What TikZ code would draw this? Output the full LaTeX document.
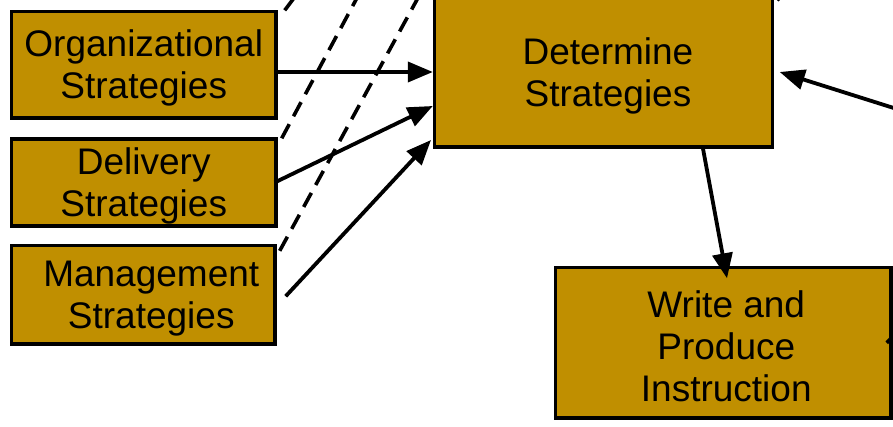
\documentclass[tikz,border=0pt]{standalone}
\usepackage{fontspec}
\setmainfont{Liberation Sans}
\usetikzlibrary{arrows.meta,calc}
\definecolor{boxgold}{RGB}{192,143,0}
\newcommand{\topstrut}{\rule{0pt}{34pt}}
\tikzset{
  stratbox/.style={rectangle, draw=black, line width=3.4pt, fill=boxgold,
    inner sep=0pt, align=center, font=\fontsize{37}{42}\selectfont},
  arr/.style={line width=3.8pt, -{Triangle[length=25pt,width=20pt]}},
  plain/.style={line width=3.8pt},
  dashline/.style={line width=3.6pt, dash pattern=on 16pt off 9pt}
}
\begin{document}
\begin{tikzpicture}[x=1pt,y=-1pt]
\useasboundingbox (0,0) rectangle (893,427);
\clip (0,0) rectangle (893,427);

% boxes
\node[stratbox, minimum width=264.5pt, minimum height=106.5pt] (org) at (143.75,64.75) {\topstrut Organizational\\Strategies};
\node[stratbox, minimum width=264.5pt, minimum height=87pt] (del) at (143.75,182.5) {\topstrut Delivery\\Strategies};
\node[stratbox, minimum width=263.5pt, minimum height=98.5pt] (man) at (143.25,294.75) {\topstrut\hspace*{16pt}Management\\\hspace*{16pt}Strategies};
\node[stratbox, minimum width=338pt, minimum height=150pt] (det) at (603.5,72) {\topstrut\hspace*{9pt}Determine\\\hspace*{9pt}Strategies};
\node[stratbox, minimum width=335.5pt, minimum height=150.5pt] (wri) at (723.25,342.75) {\topstrut\hspace*{6pt}Write and\\\hspace*{6pt}Produce\\\hspace*{6pt}Instruction};

% free ends beyond the picture
\coordinate (d1) at (294,-2);
\coordinate (d2) at (358,-4);
\coordinate (d3) at (419,-4);
\coordinate (rin) at (900,110);
\coordinate (tr) at (780,-3);
\coordinate (wr) at (897,333);
\coordinate (mtip) at (431,140);

% dashed lines
\draw[dashline] ([xshift=7pt,yshift=-0.5pt]org.north east) -- (d1);
\draw[dashline] ([xshift=4pt,yshift=-1pt]del.north east) -- (d2);
\draw[dashline] ([xshift=3pt,yshift=-7pt]man.north east) -- (d3);

% arrows
\draw[arr] (org.east |- det.west) -- (det.west);
\draw[arr] ([xshift=-3pt]del.east) -- ([yshift=-34pt]det.west);
\draw[arr] ([xshift=9pt,yshift=-1.5pt]man.east) -- (mtip);
\draw[arr] (rin) -- ([xshift=5.5pt]det.east);
\draw[arr] ([xshift=99.5pt]det.south) -- ([xshift=3.75pt,yshift=-12.5pt]wri.north);

% short line ends at the margins
\draw[plain] ([xshift=3pt,yshift=-5pt]det.north east) -- (tr);
\draw[plain] ([xshift=-6pt,yshift=0pt]wri.east) -- (wr);
\end{tikzpicture}
\end{document}
